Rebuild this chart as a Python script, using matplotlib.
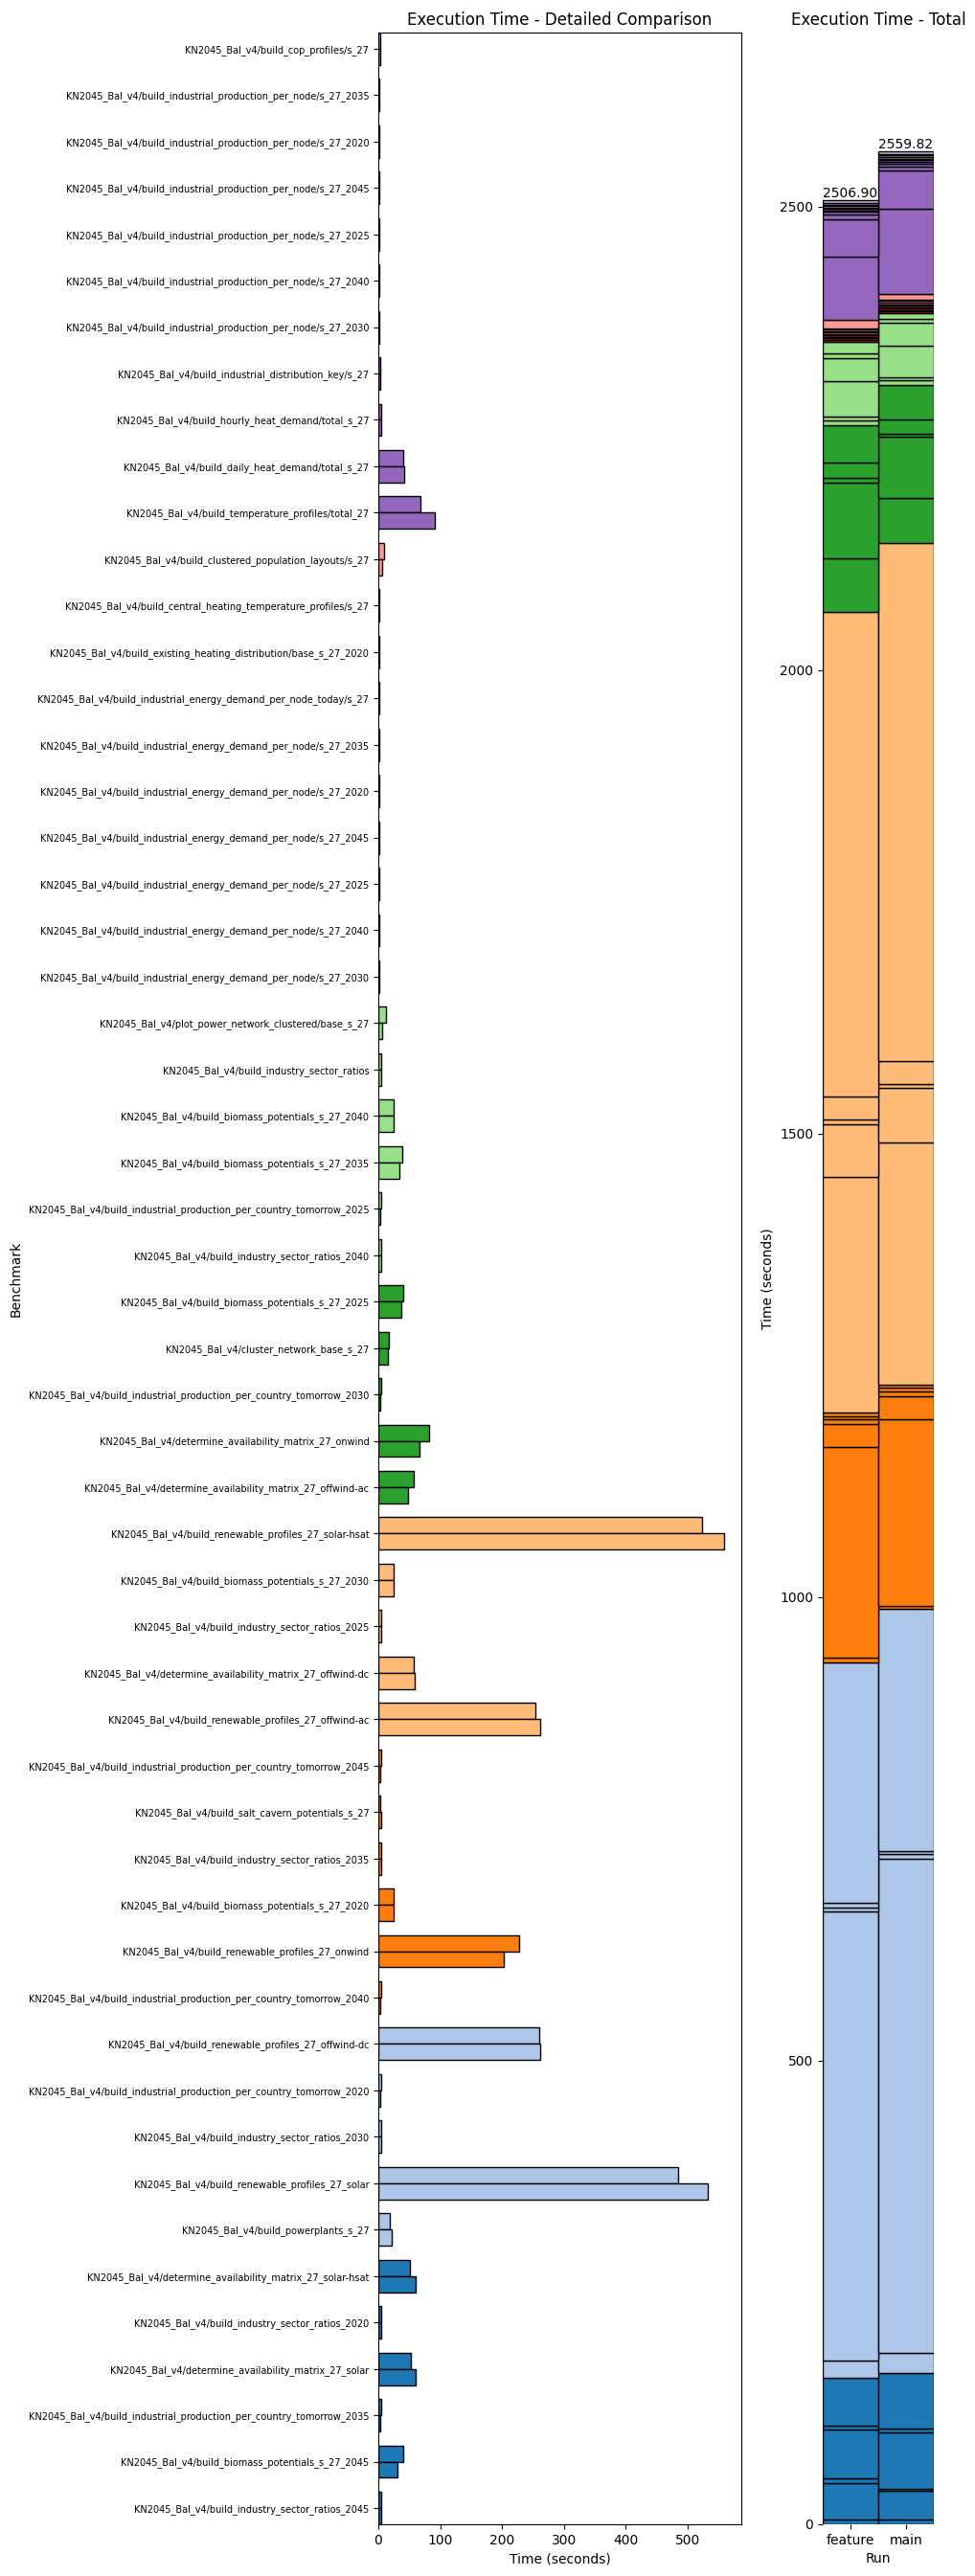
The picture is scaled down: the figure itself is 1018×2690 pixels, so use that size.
import matplotlib
matplotlib.use("Agg")
import matplotlib.pyplot as plt
import numpy as np

# Benchmarks listed from top to bottom as they appear in the chart
benchmarks_top_down = [
    "KN2045_Bal_v4/build_cop_profiles/s_27",
    "KN2045_Bal_v4/build_industrial_production_per_node/s_27_2035",
    "KN2045_Bal_v4/build_industrial_production_per_node/s_27_2020",
    "KN2045_Bal_v4/build_industrial_production_per_node/s_27_2045",
    "KN2045_Bal_v4/build_industrial_production_per_node/s_27_2025",
    "KN2045_Bal_v4/build_industrial_production_per_node/s_27_2040",
    "KN2045_Bal_v4/build_industrial_production_per_node/s_27_2030",
    "KN2045_Bal_v4/build_industrial_distribution_key/s_27",
    "KN2045_Bal_v4/build_hourly_heat_demand/total_s_27",
    "KN2045_Bal_v4/build_daily_heat_demand/total_s_27",
    "KN2045_Bal_v4/build_temperature_profiles/total_27",
    "KN2045_Bal_v4/build_clustered_population_layouts/s_27",
    "KN2045_Bal_v4/build_central_heating_temperature_profiles/s_27",
    "KN2045_Bal_v4/build_existing_heating_distribution/base_s_27_2020",
    "KN2045_Bal_v4/build_industrial_energy_demand_per_node_today/s_27",
    "KN2045_Bal_v4/build_industrial_energy_demand_per_node/s_27_2035",
    "KN2045_Bal_v4/build_industrial_energy_demand_per_node/s_27_2020",
    "KN2045_Bal_v4/build_industrial_energy_demand_per_node/s_27_2045",
    "KN2045_Bal_v4/build_industrial_energy_demand_per_node/s_27_2025",
    "KN2045_Bal_v4/build_industrial_energy_demand_per_node/s_27_2040",
    "KN2045_Bal_v4/build_industrial_energy_demand_per_node/s_27_2030",
    "KN2045_Bal_v4/plot_power_network_clustered/base_s_27",
    "KN2045_Bal_v4/build_industry_sector_ratios",
    "KN2045_Bal_v4/build_biomass_potentials_s_27_2040",
    "KN2045_Bal_v4/build_biomass_potentials_s_27_2035",
    "KN2045_Bal_v4/build_industrial_production_per_country_tomorrow_2025",
    "KN2045_Bal_v4/build_industry_sector_ratios_2040",
    "KN2045_Bal_v4/build_biomass_potentials_s_27_2025",
    "KN2045_Bal_v4/cluster_network_base_s_27",
    "KN2045_Bal_v4/build_industrial_production_per_country_tomorrow_2030",
    "KN2045_Bal_v4/determine_availability_matrix_27_onwind",
    "KN2045_Bal_v4/determine_availability_matrix_27_offwind-ac",
    "KN2045_Bal_v4/build_renewable_profiles_27_solar-hsat",
    "KN2045_Bal_v4/build_biomass_potentials_s_27_2030",
    "KN2045_Bal_v4/build_industry_sector_ratios_2025",
    "KN2045_Bal_v4/determine_availability_matrix_27_offwind-dc",
    "KN2045_Bal_v4/build_renewable_profiles_27_offwind-ac",
    "KN2045_Bal_v4/build_industrial_production_per_country_tomorrow_2045",
    "KN2045_Bal_v4/build_salt_cavern_potentials_s_27",
    "KN2045_Bal_v4/build_industry_sector_ratios_2035",
    "KN2045_Bal_v4/build_biomass_potentials_s_27_2020",
    "KN2045_Bal_v4/build_renewable_profiles_27_onwind",
    "KN2045_Bal_v4/build_industrial_production_per_country_tomorrow_2040",
    "KN2045_Bal_v4/build_renewable_profiles_27_offwind-dc",
    "KN2045_Bal_v4/build_industrial_production_per_country_tomorrow_2020",
    "KN2045_Bal_v4/build_industry_sector_ratios_2030",
    "KN2045_Bal_v4/build_renewable_profiles_27_solar",
    "KN2045_Bal_v4/build_powerplants_s_27",
    "KN2045_Bal_v4/determine_availability_matrix_27_solar-hsat",
    "KN2045_Bal_v4/build_industry_sector_ratios_2020",
    "KN2045_Bal_v4/determine_availability_matrix_27_solar",
    "KN2045_Bal_v4/build_industrial_production_per_country_tomorrow_2035",
    "KN2045_Bal_v4/build_biomass_potentials_s_27_2045",
    "KN2045_Bal_v4/build_industry_sector_ratios_2045",
]

# Execution times (seconds), same order (top to bottom)
feature_times = [
    3.1, 1.6, 1.6, 1.6, 1.6, 1.6, 1.6, 3.1, 4.6, 40.2,
    68.1, 9.3, 1.6, 1.6, 1.6, 1.6, 1.6, 1.6, 1.6, 1.6,
    1.6, 12.9, 4.6, 24.8, 38.7, 4.6, 4.6, 40.2, 17.0, 4.6,
    82.0, 57.3, 523.2, 24.8, 4.6, 57.3, 253.9, 4.6, 3.1, 4.6,
    24.8, 227.6, 4.6, 260.1, 4.6, 4.6, 484.5, 18.6, 51.1, 4.6,
    52.6, 4.6, 40.2, 4.6,
]
main_times = [
    3.0, 1.7, 1.7, 1.7, 1.7, 1.7, 1.7, 3.1, 4.6, 41.8,
    91.3, 6.2, 1.6, 1.6, 1.6, 1.6, 1.6, 1.6, 1.6, 1.6,
    1.6, 6.2, 4.6, 24.8, 34.1, 3.1, 4.6, 37.2, 15.5, 3.1,
    66.6, 48.0, 558.8, 24.8, 4.6, 58.8, 261.0, 3.1, 4.6, 4.6,
    24.8, 202.1, 3.1, 261.12, 3.1, 4.6, 533.0, 21.7, 60.4, 4.6,
    60.4, 2.6, 31.0, 4.6,
]
runs = ["feature", "main"]

# colour groups (tab20 index), counted from the bottom benchmark upward
color_group_sizes = [6, 5, 6, 5, 5, 6, 5, 5, 6, 5]

names = benchmarks_top_down[::-1]
feat = np.array(feature_times[::-1])
main = np.array(main_times[::-1])
n = len(names)
groups = np.repeat(np.arange(len(color_group_sizes)), color_group_sizes)
cmap = plt.get_cmap("tab20")
colors = [cmap(int(g)) for g in groups]

fig = plt.figure(figsize=(10.18, 26.9), dpi=100)
ax1 = fig.add_axes([0.3880, 0.0201, 0.3723, 0.9673])
ax2 = fig.add_axes([0.8438, 0.0201, 0.1139, 0.9673])

# ---- Detailed comparison
y = np.arange(n)
h = 0.35
ax1.barh(y + h / 2, feat, h, color=colors, edgecolor="black", linewidth=1)
ax1.barh(y - h / 2, main, h, color=colors, edgecolor="black", linewidth=1)
ax1.set_yticks(y)
ax1.set_yticklabels(names, fontsize=7)
ax1.set_ylim(y[0] - h, y[-1] + h)
ax1.set_xlabel("Time (seconds)")
ax1.set_ylabel("Benchmark")
ax1.set_title("Execution Time - Detailed Comparison")

# ---- Totals (stacked)
x = np.arange(len(runs))
bottoms = np.zeros(len(runs))
for i in range(n):
    vals = np.array([feat[i], main[i]])
    ax2.bar(x, vals, width=1.0, bottom=bottoms, color=colors[i],
            edgecolor="black", linewidth=1)
    bottoms = bottoms + vals
for xi, tot in zip(x, bottoms):
    ax2.text(xi, tot, f"{tot:.2f}", ha="center", va="bottom")
ax2.set_xticks(x)
ax2.set_xticklabels(runs)
ax2.set_xlim(-0.5, 1.5)
ax2.set_xlabel("Run")
ax2.set_ylabel("Time (seconds)")
ax2.set_title("Execution Time - Total")
for sp in ax2.spines.values():
    sp.set_visible(False)

fig.savefig("out.png", dpi=100)
